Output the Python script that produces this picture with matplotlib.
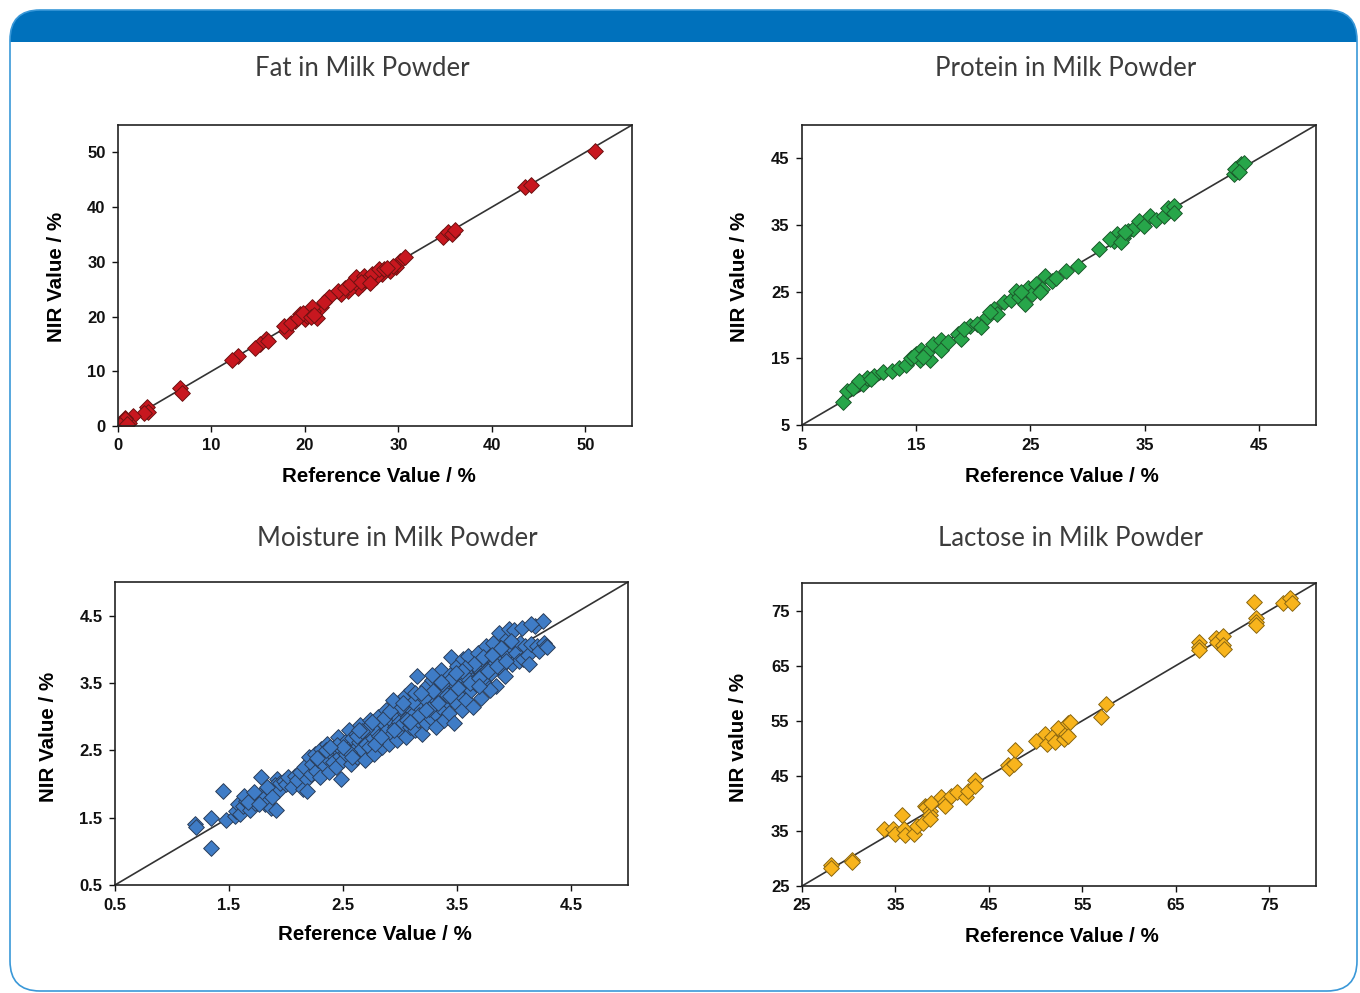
import matplotlib.pyplot as plt
from matplotlib.patches import FancyBboxPatch, Rectangle

# Fat in milk powder (reference, NIR)
fat_ref = [51.0, 43.6, 44.2, 34.8, 35.3, 35.7, 36.1, 30.2, 30.7, 29.8, 29.1, 28.3, 27.6, 26.8,
           26.1, 25.7, 25.4, 25.0, 24.6, 23.9, 23.5, 22.6, 21.7, 21.3, 20.9, 20.4, 20.0, 19.5,
           18.9, 18.4, 18.0, 17.8, 15.8, 15.2, 14.7, 12.8, 12.2, 6.6, 6.9, 3.1, 3.2, 2.8, 1.6,
           0.8, 0.5, 0.3, 1.2, 0.7, 18.5, 19.3, 20.2, 20.8, 22.0, 24.3, 24.8, 25.5, 26.3, 26.5,
           27.2, 27.9, 28.5, 29.4, 19.8, 20.6, 21.0, 26.0, 27.0, 28.8, 16.0, 0.2, 1.0]
fat_nir = [50.2, 43.6, 44.1, 34.5, 35.4, 35.1, 35.8, 30.2, 30.8, 29.0, 28.4, 27.8, 27.2, 26.9,
           25.9, 25.3, 26.3, 25.6, 24.7, 24.1, 24.7, 23.5, 21.7, 19.8, 21.1, 20.8, 19.5, 20.5,
           19.2, 18.6, 17.4, 18.3, 15.9, 15.0, 14.3, 12.8, 12.0, 7.0, 6.1, 3.4, 2.6, 2.4, 1.8,
           1.5, 0.9, 0.3, 0.6, 1.2, 18.9, 19.8, 20.1, 21.7, 22.6, 25.3, 25.9, 27.2, 27.5, 26.6,
           27.8, 28.7, 28.7, 29.3, 20.6, 19.9, 20.3, 26.4, 26.1, 28.9, 15.5, 0.1, 0.4]

# Protein in milk powder
prot_ref = [8.6, 8.9, 9.5, 10.3, 10.7, 11.3, 12.1, 12.9, 13.5, 14.1, 14.5, 15.0, 15.4, 15.3,
            16.2, 15.9, 16.5, 17.2, 17.2, 17.8, 18.7, 18.9, 19.7, 20.3, 20.7, 21.2, 21.8, 22.1,
            22.7, 23.3, 23.7, 24.0, 24.5, 24.8, 25.1, 25.5, 26.0, 26.3, 26.9, 27.2, 28.1, 29.2,
            31.0, 32.3, 32.6, 33.1, 33.5, 34.0, 34.5, 34.9, 35.5, 36.0, 36.7, 37.0, 37.6, 37.6,
            42.8, 43.1, 43.4, 43.2, 43.7, 10.0, 11.0, 14.8, 15.6, 19.2, 21.5, 24.2, 25.8, 32.0,
            32.9, 33.3, 42.9, 43.3]
prot_nir = [8.5, 10.1, 10.5, 11.2, 12.0, 12.3, 13.0, 13.1, 13.5, 14.0, 15.0, 15.7, 16.2, 14.7,
            14.7, 15.9, 17.2, 17.7, 16.2, 17.4, 18.7, 17.9, 19.9, 20.2, 19.7, 21.2, 22.4, 21.7,
            23.4, 23.7, 25.1, 24.2, 23.2, 25.6, 24.7, 26.1, 25.4, 27.4, 26.6, 27.1, 28.1, 28.9,
            31.4, 32.6, 33.6, 33.1, 34.1, 34.4, 35.6, 34.9, 36.3, 35.8, 36.3, 37.6, 37.8, 36.8,
            42.6, 43.6, 44.1, 43.1, 44.3, 11.6, 11.9, 15.4, 15.2, 19.4, 21.9, 25.0, 24.9, 32.9,
            32.4, 34.0, 43.4, 42.9]

# Moisture in milk powder
moist_ref = [1.20, 1.21, 1.34, 1.34, 1.45, 1.47, 1.55, 1.56, 1.58, 1.60, 1.62, 1.65, 1.68, 1.70,
             1.73, 1.78, 1.78, 1.80, 1.82, 1.85, 1.87, 1.92, 1.90, 1.93, 1.95, 1.98, 2.00,
             2.02, 2.05, 2.08, 2.10, 2.12, 2.15, 2.16, 2.18, 2.20, 2.22, 2.23, 2.25, 2.26, 2.28,
             2.30, 2.31, 2.33, 2.35, 2.36, 2.38, 2.40, 2.41, 2.43, 2.44, 2.46, 2.47, 2.48, 2.49,
             2.50, 2.52, 2.53, 2.55, 2.56, 2.57, 2.58, 2.60, 2.61, 2.62, 2.64, 2.65, 2.66, 2.68,
             2.69, 2.70, 2.72, 2.73, 2.74, 2.76, 2.77, 2.78, 2.80, 2.81, 2.82, 2.84, 2.85, 2.86,
             2.88, 2.89, 2.90, 2.92, 2.93, 2.94, 2.96, 2.97, 2.98, 2.99, 3.00, 3.02, 3.03, 3.04,
             3.05, 3.07, 3.08, 3.09, 3.10, 3.12, 3.13, 3.14, 3.15, 3.16, 3.18, 3.19, 3.20, 3.22,
             3.23, 3.24, 3.26, 3.27, 3.28, 3.30, 3.31, 3.32, 3.34, 3.35, 3.36, 3.38, 3.39, 3.40,
             3.42, 3.43, 3.44, 3.45, 3.47, 3.48, 3.49, 3.50, 3.52, 3.53, 3.54, 3.55, 3.57, 3.58,
             3.59, 3.60, 3.62, 3.63, 3.64, 3.66, 3.67, 3.68, 3.70, 3.71, 3.72, 3.74, 3.75, 3.76,
             3.78, 3.79, 3.80, 3.82, 3.83, 3.84, 3.86, 3.87, 3.88, 3.90, 3.91, 3.92, 3.94, 3.95,
             3.96, 3.98, 3.99, 4.00, 4.02, 4.04, 4.05, 4.07, 4.08, 4.10, 4.12, 4.13, 4.15, 4.18,
             4.20, 4.22, 4.25, 4.26, 4.28, 4.29, 4.15,
             2.35, 2.45, 2.55, 2.62, 2.70, 2.78, 2.86, 2.95, 3.01, 3.06, 3.11, 3.17, 3.21, 3.25,
             3.29, 3.33, 3.37, 3.41, 3.46, 3.51, 3.56, 3.61, 3.65, 3.69, 3.73, 3.77, 3.81, 3.85,
             3.89, 3.93, 3.97, 2.58, 2.67, 2.83, 2.91, 3.09, 3.23, 3.44, 3.57, 3.79, 2.94, 3.13,
             3.54, 3.69, 3.28, 2.50, 2.18, 1.91,
             1.63, 1.67, 1.72, 1.76, 1.83, 1.88, 2.27, 2.39, 2.64, 2.75, 3.03, 3.18, 3.36, 3.49]
moist_nir = [1.40, 1.36, 1.49, 1.05, 1.90, 1.47, 1.52, 1.60, 1.70, 1.55, 1.68, 1.75, 1.62, 1.80,
             1.72, 2.10, 1.85, 1.78, 1.70, 1.92, 1.65, 2.08, 1.98, 1.90, 2.02, 2.05, 2.00,
             2.10, 1.95, 2.12, 2.06, 2.18, 1.92, 2.25, 2.08, 2.40, 2.15, 2.30, 2.45, 2.20, 2.35,
             2.10, 2.52, 2.28, 2.40, 2.60, 2.18, 2.45, 2.32, 2.55, 2.25, 2.70, 2.42, 2.08, 2.50,
             2.35, 2.62, 2.45, 2.80, 2.55, 2.30, 2.68, 2.50, 2.75, 2.40, 2.62, 2.88, 2.52, 2.70,
             2.35, 2.60, 2.85, 2.55, 2.95, 2.68, 2.45, 2.78, 2.62, 3.00, 2.72, 2.55, 2.90, 2.68,
             3.10, 2.80, 2.60, 2.95, 2.75, 3.05, 2.85, 2.65, 3.20, 2.92, 2.78, 3.10, 2.90, 3.30,
             2.70, 3.00, 3.15, 2.85, 3.40, 3.05, 2.80, 3.25, 3.60, 2.95, 3.12, 2.75, 3.35, 3.05,
             2.90, 3.45, 3.18, 2.98, 3.55, 3.28, 3.05, 2.85, 3.40, 3.15, 3.70, 3.30, 2.95, 3.50,
             3.22, 3.05, 3.62, 3.89, 2.90, 3.48, 3.20, 3.75, 3.35, 3.55, 3.10, 3.85, 3.45, 3.25,
             3.65, 3.90, 3.40, 3.55, 3.15, 3.75, 3.48, 3.95, 3.60, 3.27, 3.85, 3.55, 4.05, 3.70,
             3.42, 3.90, 3.65, 4.10, 3.80, 3.46, 3.95, 4.25, 3.72, 4.05, 3.85, 3.60, 4.15, 3.90,
             4.30, 3.78, 4.00, 4.28, 3.95, 3.82, 4.10, 4.32, 3.85, 4.05, 3.92, 3.78, 4.08, 4.35,
             4.05, 3.98, 4.42, 4.10, 4.05, 4.04, 4.37,
             2.50, 2.58, 2.48, 2.72, 2.82, 2.60, 2.98, 2.80, 3.15, 2.95, 3.22, 3.02, 3.28, 3.12,
             3.38, 3.20, 3.48, 3.32, 3.58, 3.42, 3.62, 3.50, 3.78, 3.58, 3.88, 3.68, 3.92, 3.75,
             4.02, 3.82, 4.12, 2.40, 2.78, 2.70, 3.08, 2.92, 3.10, 3.30, 3.72, 3.40, 3.25, 3.35,
             3.68, 3.45, 3.62, 2.55, 1.89, 1.62,
             1.82, 1.73, 1.88, 1.70, 1.95, 1.80, 2.38, 2.55, 2.80, 2.92, 3.20, 3.35, 3.52, 3.65]

# Lactose in milk powder
lact_ref = [28.1, 28.1, 30.3, 30.3, 33.8, 34.7, 34.9, 35.7, 35.9, 36.0, 37.0, 37.3, 37.9, 38.2,
            38.3, 38.7, 38.7, 38.7, 38.8, 39.9, 40.3, 40.3, 40.9, 41.6, 42.5, 42.8, 43.5, 43.5,
            47.0, 47.1, 47.7, 47.8, 50.0, 51.0, 51.2, 51.7, 52.1, 52.4, 53.0, 53.2, 53.5, 53.5,
            53.7, 57.0, 57.5, 67.5, 67.5, 67.5, 69.3, 69.4, 70.1, 70.1, 70.2, 73.4, 73.6, 73.6,
            73.6, 76.5, 77.2, 77.4]
lact_nir = [28.8, 28.3, 29.7, 29.3, 35.3, 35.3, 34.5, 37.8, 35.3, 34.2, 34.4, 35.9, 36.4, 39.6,
            39.3, 38.7, 37.8, 37.2, 40.0, 41.2, 40.2, 39.6, 41.4, 42.0, 41.2, 42.3, 44.3, 43.2,
            47.0, 46.4, 47.2, 49.6, 51.4, 52.6, 50.8, 52.0, 51.1, 53.6, 51.7, 52.6, 54.5, 52.3,
            54.8, 55.7, 58.1, 69.2, 68.4, 67.8, 70.0, 69.3, 70.3, 68.7, 68.1, 76.5, 73.6, 73.0,
            72.4, 76.3, 77.2, 76.3]

W, H = 1360, 993
fig = plt.figure(figsize=(W / 100, H / 100), dpi=100)

# fondo: marco redondeado y barra azul superior
bg = fig.add_axes([0, 0, 1, 1], zorder=-5)
bg.set_xlim(0, W)
bg.set_ylim(H, 0)
bg.axis('off')
bg.add_patch(FancyBboxPatch((10, 10), 1347, 70, boxstyle="round,pad=0,rounding_size=30",
                            facecolor='#0071bc', edgecolor='none'))
bg.add_patch(Rectangle((10, 42), 1347, 60, facecolor='white', edgecolor='none'))
bg.add_patch(FancyBboxPatch((10, 10), 1347, 981, boxstyle="round,pad=0,rounding_size=30",
                            facecolor='none', edgecolor='#3a98d8', linewidth=1.2))

tick_font = {'family': ['Liberation Sans', 'DejaVu Sans'], 'weight': 'bold', 'size': 12}
label_font = {'family': ['Liberation Sans', 'DejaVu Sans'], 'weight': 'bold', 'size': 14.8}
title_font = {'family': ['Lato', 'DejaVu Sans'], 'weight': 'normal', 'size': 18.5, 'color': '#3c3c3c'}

paneles = [
    # rect, datos, limites, ticks, colores, titulo, ylabel, pos titulo, pos xlabel, pos ylabel
    ([118, 125, 514, 301], fat_ref, fat_nir, (0, 55), [0, 10, 20, 30, 40, 50],
     '#c8171f', '#6e1212', 'Fat in Milk Powder', 'NIR Value / %', (362, 69), (379, 476), (56, 277)),
    ([802, 125, 514, 300], prot_ref, prot_nir, (5, 50), [5, 15, 25, 35, 45],
     '#27a64a', '#1b5a2b', 'Protein in Milk Powder', 'NIR Value / %', (1066, 69), (1062, 476), (740, 277)),
    ([115, 582, 513, 303], moist_ref, moist_nir, (0.5, 5.0), [0.5, 1.5, 2.5, 3.5, 4.5],
     '#3f7cc6', '#2b3e5a', 'Moisture in Milk Powder', 'NIR Value / %', (397, 539), (375, 935), (49, 737)),
    ([802, 583, 514, 303], lact_ref, lact_nir, (25, 80), [25, 35, 45, 55, 65, 75],
     '#f8b41c', '#8a6712', 'Lactose in Milk Powder', 'NIR value / %', (1071, 539), (1062, 936), (738, 737)),
]

for rect, xs, ys, lim, ticks, color, edge, titulo, ylab, tpos, xlpos, ylpos in paneles:
    x0, y0, w, h = rect
    ax = fig.add_axes([x0 / W, 1 - (y0 + h) / H, w / W, h / H])
    ax.plot(lim, lim, color='#333333', linewidth=1.2, zorder=1)
    ax.scatter(xs, ys, marker='D', s=64, facecolor=color, edgecolor=edge, linewidths=0.7, zorder=2)
    ax.set_xlim(lim)
    ax.set_ylim(lim)
    ax.set_xticks(ticks)
    ax.set_yticks(ticks)
    ax.set_xticklabels([('%g' % t) for t in ticks], fontdict=tick_font)
    ax.set_yticklabels([('%g' % t) for t in ticks], fontdict=tick_font)
    ax.tick_params(direction='out', length=4, width=1, pad=5, colors='#111111')
    for sp in ax.spines.values():
        sp.set_linewidth(1.2)
        sp.set_color('#222222')
    fig.text(tpos[0] / W, 1 - tpos[1] / H, titulo, ha='center', va='center', **title_font)
    fig.text(xlpos[0] / W, 1 - xlpos[1] / H, 'Reference Value / %', ha='center', va='center', **label_font)
    fig.text(ylpos[0] / W, 1 - ylpos[1] / H, ylab, ha='center', va='center', rotation=90, **label_font)

fig.savefig('out.png', dpi=100)
